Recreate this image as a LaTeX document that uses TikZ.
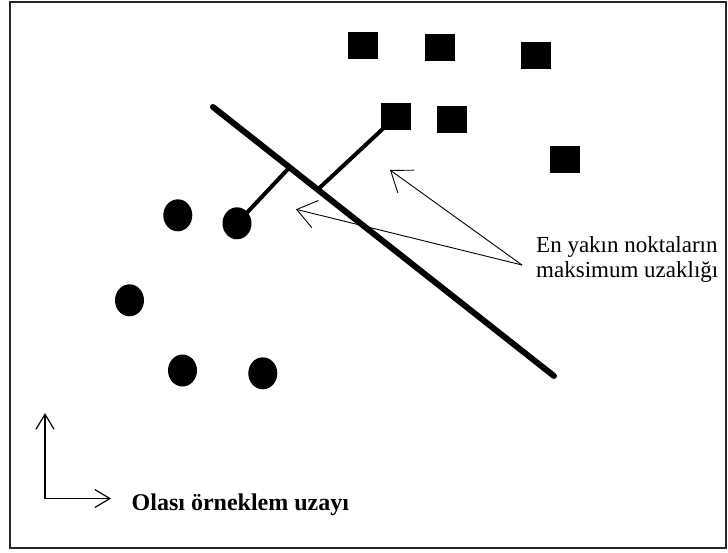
\documentclass[tikz,border=0pt]{standalone}
\usepackage{fontspec}
\setmainfont{Liberation Serif}
\usetikzlibrary{arrows.meta,shapes.geometric}

\tikzset{
  classA/.style={fill=black, draw=none, minimum width=30pt, minimum height=27pt, inner sep=0pt},
  classB/.style={ellipse, fill=black, draw=none, minimum width=29pt, minimum height=32pt, inner sep=0pt},
  divider/.style={line width=6pt, line cap=round},
  support/.style={line width=4pt},
  callout/.style={line width=0.9pt, -{Straight Barb[length=19pt, width=28pt, line width=0.9pt]}},
  axis/.style={line width=1.3pt, -{Straight Barb[length=15pt, width=18pt, line width=1.2pt]}},
  label/.style={inner sep=0pt, font=\fontsize{23}{25}\selectfont, align=left},
}

\begin{document}
\begin{tikzpicture}[x=1pt, y=-1pt]
  \useasboundingbox (0,0) rectangle (728,552);
  % outer frame
  \draw[line width=2pt, draw=black!85] (10,2) rectangle (726,548);

  % square class
  \node[classA] (s1) at (362.5,45.7) {};
  \node[classA] (s2) at (439.5,47.5) {};
  \node[classA] (s3) at (535.7,55.5) {};
  \node[classA] (s4) at (396.3,116.3) {};
  \node[classA] (s5) at (452.3,119.7) {};
  \node[classA] (s6) at (564.5,159.8) {};

  % circle class
  \node[classB] (c1) at (177.8,215.3) {};
  \node[classB] (c2) at (237,223.3) {};
  \node[classB] (c3) at (129.5,300.3) {};
  \node[classB] (c4) at (182.5,370.5) {};
  \node[classB] (c5) at (262.8,373.3) {};

  % separating line and its closest-point supports
  \coordinate (lineA) at (213,107);
  \coordinate (lineB) at (554,376);
  \coordinate (footA) at (288,169);
  \coordinate (footB) at (318.3,189);
  \draw[divider] (lineA) -- (lineB);
  \draw[support] (c2.center) -- (footA);
  \draw[support] (s4.center) -- (footB);

  % margin label with its two pointers
  \coordinate (tail) at (522,265);
  \coordinate (tipA) at (390,170);
  \coordinate (tipB) at (296,209.3);
  \draw[callout] (tail) -- (tipA);
  \draw[callout] (tail) -- (tipB);
  \node[label, anchor=north west] (marginText) at (536,236)
    {En yakın noktaların\\maksimum uzaklığı};

  % axes
  \coordinate (origin) at (45,498.5);
  \coordinate (yEnd) at (45,413);
  \coordinate (xEnd) at (111,498.5);
  \draw[axis] (origin) -- (yEnd);
  \draw[axis] (origin) -- (xEnd);
  \node[inner sep=0pt, anchor=base west, font=\fontsize{24}{27}\selectfont\bfseries]
    (spaceText) at (131.5,510) {Olası örneklem uzayı};
\end{tikzpicture}
\end{document}
